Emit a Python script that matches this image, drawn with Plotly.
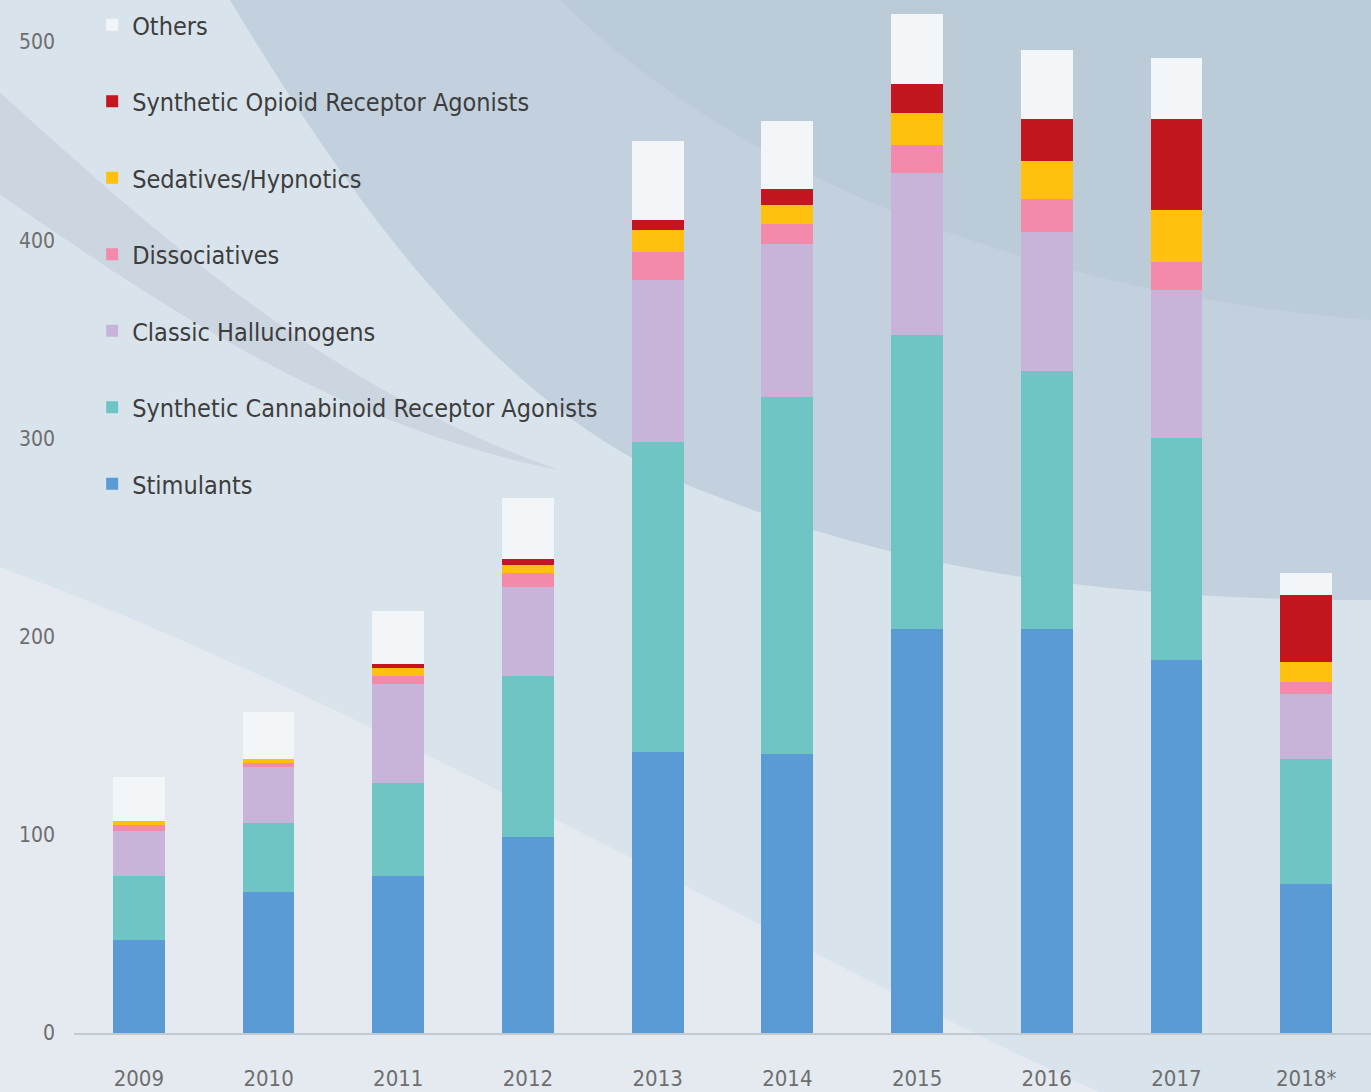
import plotly.graph_objects as go

years = ["2009", "2010", "2011", "2012", "2013", "2014", "2015", "2016", "2017", "2018*"]
stimulants = [47, 71, 79, 99, 142, 141, 204, 204, 188, 75]
cannabinoids = [32, 35, 47, 81, 156, 180, 148, 130, 112, 63]
hallucinogens = [23, 28, 50, 45, 82, 77, 82, 70, 75, 33]
dissociatives = [3, 2, 4, 7, 14, 10, 14, 17, 14, 6]
sedatives = [2, 2, 4, 4, 11, 10, 16, 19, 26, 10]
opioids = [0, 0, 2, 3, 5, 8, 15, 21, 46, 34]
others = [22, 24, 27, 31, 40, 34, 35, 35, 31, 11]

series = [
    ("Stimulants", stimulants, "#5b9bd5"),
    ("Synthetic Cannabinoid Receptor Agonists", cannabinoids, "#6fc5c4"),
    ("Classic Hallucinogens", hallucinogens, "#c9b4d9"),
    ("Dissociatives", dissociatives, "#f48aa9"),
    ("Sedatives/Hypnotics", sedatives, "#ffc10e"),
    ("Synthetic Opioid Receptor Agonists", opioids, "#c3161e"),
    ("Others", others, "#f3f6f9"),
]

W, H = 1371, 1092
L, R, T, B = 74, 0, 0, 59
pw, ph = W - L - R, H - T - B

def P(px, py):
    return (px - L) / pw, (H - B - py) / ph

def path(points, close=True):
    s = ""
    for cmd, pts in points:
        s += cmd + " " + " ".join(f"{P(x, y)[0]:.4f},{P(x, y)[1]:.4f}" for x, y in pts) + " "
    return s + ("Z" if close else "")

FONT = "DejaVu Sans Condensed, Liberation Sans Narrow, sans-serif"

fig = go.Figure()
n = len(series)
for i, (name, vals, col) in enumerate(series):
    fig.add_trace(go.Bar(
        x=years, y=vals, name=name, legendgroup=f"g{i}", legendrank=n - i,
        marker=dict(color=col, line=dict(width=0)),
        width=0.4,
    ))

shapes = [
    # darker sweeping region upper-right
    dict(type="path", xref="paper", yref="paper", layer="below",
         path=path([("M", [(230, 0)]),
                    ("C", [(380, 250), (520, 420), (700, 490)]),
                    ("C", [(900, 570), (1100, 600), (1371, 600)]),
                    ("L", [(1371, 0)])]),
         fillcolor="#c2d1dd", line=dict(width=0)),
    # inner darker band
    dict(type="path", xref="paper", yref="paper", layer="below",
         path=path([("M", [(560, 0)]),
                    ("C", [(720, 160), (1000, 290), (1371, 320)]),
                    ("L", [(1371, 0)])]),
         fillcolor="#bccbd8", line=dict(width=0)),
    # light lower-left band
    dict(type="path", xref="paper", yref="paper", layer="below",
         path=path([("M", [(-80, 540)]),
                    ("C", [(300, 660), (800, 960), (1100, 1092)]),
                    ("L", [(-80, 1092)])]),
         fillcolor="#e4eaf0", line=dict(width=0)),
    # grey diagonal band left
    dict(type="path", xref="paper", yref="paper", layer="below",
         path=path([("M", [(-80, 20)]),
                    ("C", [(120, 200), (300, 380), (560, 470)]),
                    ("C", [(300, 420), (100, 260), (-80, 140)])]),
         fillcolor="#cbd6e0", line=dict(width=0)),
]

fig.update_layout(
    width=W, height=H,
    barmode="stack",
    margin=dict(l=L, r=R, t=T, b=B, autoexpand=False),
    paper_bgcolor="#d9e3eb",
    plot_bgcolor="rgba(0,0,0,0)",
    shapes=shapes,
    showlegend=True,
    legend=dict(
        x=0.014, y=0.998, xanchor="left", yanchor="top",
        traceorder="grouped", tracegroupgap=41,
        bgcolor="rgba(0,0,0,0)",
        font=dict(family=FONT, size=25, color="#3d3d3d"),
        itemwidth=30,
    ),
    font=dict(family=FONT),
    xaxis=dict(
        showgrid=False, showline=True, linecolor="#c2cad2", linewidth=2,
        ticks="", tickfont=dict(size=22, color="#6e6e6e"),
        ticklabelstandoff=25,
        range=[-0.5, 9.5],
    ),
    yaxis=dict(
        range=[0, 521.2], tickvals=[0, 100, 200, 300, 400, 500],
        showgrid=False, zeroline=False, showline=False,
        tickfont=dict(size=21, color="#6e6e6e"),
        ticklabelstandoff=18,
    ),
)

fig.write_html("out.html", config={"displayModeBar": False},
               post_script="document.body.style.margin='0px';document.body.style.overflow='hidden';")
